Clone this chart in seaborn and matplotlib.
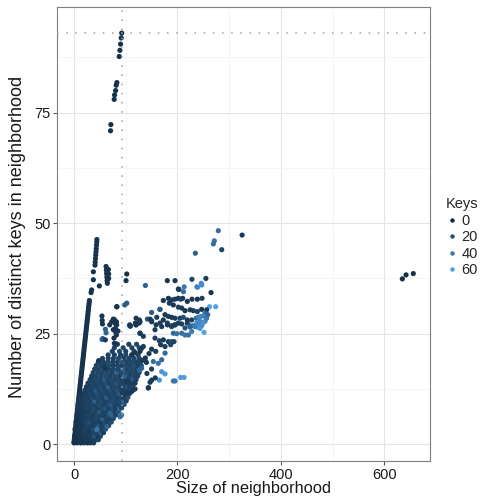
import numpy as np
import pandas as pd
import matplotlib
matplotlib.use("Agg")
import matplotlib.pyplot as plt
from matplotlib.colors import LinearSegmentedColormap, Normalize
from matplotlib.lines import Line2D
import seaborn as sns

# ---------------- data ----------------
# points lying on the "keys == size" diagonal
diag_size = [0, 0.5, 1, 1.5, 2, 2.4, 2.8, 3.3, 3.7, 4.2, 4.6, 5.1, 5.5, 6, 6.5, 6.9, 7.4, 7.8, 8.3, 8.8,
             9.2, 9.7, 10.1, 10.6, 11.1, 11.5, 12, 12.5, 12.9, 13.4, 13.9, 14.3, 14.8, 15.3, 15.7, 16.2,
             16.7, 17.1, 17.6, 18.1, 18.5, 19, 19.5, 19.9, 20.4, 20.9, 21.3, 21.8, 22.3, 22.7, 23.2, 23.7,
             24.1, 24.6, 25.1, 25.5, 26, 26.5, 26.9, 27.4, 27.9, 28.3, 28.8, 29.3, 29.7,
             33, 34, 37.4, 37.4, 40.6, 41, 41.5, 42, 42.5, 43, 43.5, 44, 44.2,
             70.6, 71.3, 77.7, 78.4, 80.4, 81.6, 82.9, 87.4, 88.7, 90.0, 91.3, 92.2]
diag_distinct = [0.5, 1, 1.5, 2, 2.5, 3, 3.5, 4, 4.5, 5, 5.5, 6, 6.5, 7, 7.5, 8, 8.5, 9, 9.5, 10,
                 10.5, 11, 11.5, 12, 12.5, 13, 13.5, 14, 14.5, 15, 15.5, 16, 16.5, 17, 17.5, 18,
                 18.5, 19, 19.5, 20, 20.5, 21, 21.5, 22, 22.5, 23, 23.5, 24, 24.5, 25, 25.5, 26,
                 26.5, 27, 27.5, 28, 28.5, 29, 29.5, 30, 30.5, 31, 31.5, 32, 32.5,
                 34.3, 34.9, 37.2, 39, 40.5, 41.2, 42, 42.8, 43.5, 44.2, 45, 45.7, 46.3,
                 70.9, 72.3, 78.0, 79.0, 80.0, 81.2, 81.8, 87.7, 89.1, 90.5, 91.9, 93.0]
diag_keys = [4] * 65 + [5] * 13 + [3] * 12

# second short streak
streak_size = [62, 62.5, 63, 63.5, 64, 64.5, 66.5, 67, 67, 49]
streak_distinct = [40.2, 39.4, 38.6, 37.8, 37, 36.4, 39.5, 38.5, 37.5, 35.8]
streak_keys = [5, 5, 5, 5, 5, 5, 5, 5, 5, 5]

# dense wedge near the origin, row by row
cloud_rows = [0.3, 1.0, 1.8, 2.6, 3.4, 4.2, 5.0, 5.8, 6.6, 7.4, 8.2, 9.0, 9.8, 10.6, 11.4, 12.2,
              13.0, 13.8, 14.6, 15.4, 16.2, 17.0, 17.8, 18.6, 19.4, 20.2, 21.0, 21.8, 22.6]
cloud_size = [
    [0, 6, 13, 19, 26, 32, 38],
    [3, 10, 16, 23, 29, 36, 42, 47],
    [1, 7, 14, 20, 27, 33, 40, 46, 51],
    [4, 11, 18, 25, 32, 39, 46, 52, 57],
    [2, 8, 15, 22, 29, 36, 43, 50, 56, 61],
    [5, 12, 19, 26, 33, 40, 47, 54, 61, 67],
    [4, 9, 16, 23, 30, 37, 44, 51, 58, 65, 72],
    [6, 13, 20, 27, 34, 41, 48, 55, 62, 69, 76],
    [6, 10, 17, 24, 31, 38, 45, 52, 59, 66, 73, 81],
    [7, 14, 21, 28, 35, 42, 49, 56, 63, 70, 78, 86],
    [8, 11, 18, 25, 32, 39, 46, 53, 60, 67, 74, 81, 88, 92],
    [8, 15, 22, 29, 36, 43, 50, 57, 64, 71, 78, 85, 92, 97],
    [9, 12, 19, 26, 33, 40, 47, 54, 61, 68, 75, 82, 89, 96, 101],
    [14, 21, 28, 35, 42, 49, 56, 63, 70, 77, 84, 91, 98, 104],
    [17, 24, 31, 38, 45, 52, 59, 66, 73, 80, 87, 94, 101, 107],
    [21, 28, 35, 42, 49, 56, 63, 70, 77, 84, 91, 98, 105, 111],
    [24, 31, 38, 45, 52, 59, 66, 73, 80, 87, 94, 101, 108, 113],
    [27, 34, 41, 48, 55, 62, 69, 76, 83, 90, 97, 104, 111, 117],
    [31, 38, 45, 52, 59, 66, 73, 80, 87, 94, 101, 108, 115, 120],
    [34, 43, 52, 61, 70, 79, 88, 97, 106, 115, 123],
    [37, 46, 55, 64, 73, 82, 91, 100, 109, 118, 126],
    [40, 49, 58, 67, 76, 85, 94, 103, 112, 121, 128],
    [43, 52, 60, 68, 76, 84, 92, 100, 108, 116, 124, 130],
    [47, 57, 66, 75, 84, 93, 102, 111, 120, 128],
    [55, 66, 76, 86, 96, 106, 116, 126],
    [66, 78, 90, 100, 112, 124],
    [74, 88, 100, 116],
    [78, 95, 112, 126],
    [84, 106, 121],
]
cloud_keys = [
    [3, 4, 5, 6, 5, 8, 10],
    [3, 5, 6, 8, 7, 10, 9, 14],
    [4, 5, 7, 9, 8, 12, 22, 10, 12],
    [4, 6, 8, 10, 9, 14, 12, 26, 10],
    [5, 6, 8, 12, 9, 16, 10, 13, 11, 20],
    [5, 7, 9, 14, 10, 12, 24, 11, 15, 14],
    [5, 6, 8, 12, 20, 11, 13, 10, 16, 12, 18],
    [6, 7, 10, 13, 11, 15, 12, 28, 14, 11, 16],
    [6, 7, 9, 12, 14, 10, 16, 13, 11, 18, 30, 14],
    [7, 8, 11, 10, 15, 12, 26, 14, 12, 16, 13, 22],
    [7, 8, 10, 14, 12, 16, 11, 15, 22, 13, 17, 12, 34, 14],
    [8, 9, 12, 11, 15, 13, 18, 12, 16, 26, 14, 12, 15, 20],
    [8, 9, 10, 14, 12, 30, 13, 16, 12, 15, 18, 13, 16, 32, 14],
    [9, 12, 10, 15, 13, 16, 12, 28, 14, 16, 12, 15, 13, 18],
    [9, 11, 14, 12, 18, 13, 15, 12, 17, 14, 24, 13, 16, 14],
    [10, 13, 12, 24, 14, 16, 12, 18, 14, 20, 13, 15, 12, 16],
    [10, 12, 15, 13, 17, 12, 30, 14, 16, 12, 14, 18, 13, 15],
    [10, 14, 12, 16, 13, 18, 12, 15, 22, 14, 13, 16, 12, 14],
    [11, 13, 16, 12, 26, 14, 17, 13, 15, 12, 16, 14, 30, 13],
    [11, 12, 14, 18, 13, 15, 12, 32, 14, 16, 12],
    [12, 15, 13, 16, 12, 30, 14, 18, 12, 14, 16],
    [12, 13, 17, 12, 15, 14, 28, 13, 16, 12, 14],
    [12, 14, 12, 16, 13, 15, 12, 18, 14, 20, 13, 15],
    [12, 13, 16, 12, 14, 22, 13, 15, 12, 14],
    [12, 14, 12, 16, 13, 12, 15, 14],
    [12, 14, 12, 16, 12, 14],
    [12, 14, 12, 15],
    [12, 14, 12, 16],
    [12, 12, 14],
]

# scattered points (size, distinct keys, keys)
sparse_size = [
    279, 325, 271.3, 269.4, 285.6, 234.6,
    102, 100.6, 138, 180.4, 195.3, 228, 255, 239, 247, 246, 237.4, 213, 203, 211.6, 265, 201.7,
    262, 274, 83, 98, 102, 82.5, 150, 166,
    76, 78, 82, 80, 109, 120, 126.4, 141.9, 150, 158.7, 107.7, 118.6, 69, 54, 54.5, 55, 60.6, 62,
    54.2, 55.5, 80, 82, 78, 60.6, 47.7, 59.4, 85, 80, 108, 126, 120, 127.6, 147, 160, 156.6,
    172.7, 182.4, 188.8, 195.3, 201.7, 206.2, 210.1, 219.1, 228.1, 238.5, 247.5,
    166.3, 184.3, 192, 201.7, 208.2, 214.6, 224.3, 230.7, 238.5, 246.8, 256.5, 253.3, 258.4,
    176, 182.4, 188.8, 195.3, 205, 211.4, 219.1, 227.5, 236, 240.4, 244.9, 250.1, 256.5, 243.6,
    237.2, 230.7, 224.3, 214.6, 238.5, 246.8, 253.3, 201.7, 195.3, 188.8, 180.5, 172.7, 169.5,
    72.8, 82.5, 108.3, 119.9, 127.6, 150.2, 166.3, 180.5, 188.8, 195.3, 208.2, 219.1, 224.3, 234,
    240.4, 243.6, 250,
    192, 198.5, 208.2, 214.6, 221, 227.5, 251.4,
    76, 77.3, 81.2, 127.6, 134,
    156.6, 165, 172.7, 182.4, 188.8, 193.3,
    167.6, 176, 186.9,
    134, 130.8, 127.6, 118, 111.5,
    153.4, 163, 169.5, 176,
    130.8, 126.3,
    169.5, 176,
    150.2, 165,
    192, 195.3,
    206.2, 212.7,
    143.7, 147, 141, 150, 157,
    101.8, 108.3, 118, 114.7, 111.5, 101.8, 95.4, 95, 118, 143.7,
    89, 92, 69.6, 63.5, 44,
    150, 158, 145, 138, 140, 133,
    634.8, 642, 656,
]
sparse_distinct = [
    48.3, 47.3, 46, 45.3, 44, 43.2,
    38.5, 37, 35.9, 37, 37, 37.3, 37.5, 35.5, 36, 36.4, 35.6, 35.6, 35, 34.5, 34.3, 35.1,
    31.1, 31.1, 31.1, 31.5, 31.9, 31.1, 29.8, 30.5,
    28.3, 28.2, 27.7, 27.3, 26.7, 27, 28.1, 28.3, 27.9, 27, 27, 27.4, 27, 29, 28, 27.2, 26, 25.2,
    23.7, 23.9, 25.5, 24.7, 22.8, 23.6, 18.9, 17.2, 25.6, 26.2, 26.8, 27.4, 28.5, 25.1, 28.3, 28.7, 25.9,
    32.5, 33, 32.65, 32.8, 33, 32.8, 33, 32.3, 32.8, 32.8, 33,
    30.5, 31.9, 31.5, 31, 30.8, 30.2, 30.4, 30.2, 30, 30.5, 30.4, 29.6, 29.3,
    29.3, 28.9, 28.7, 28.5, 28.5, 28.7, 28.1, 28.1, 28.5, 28.7, 28.9, 29, 28.5, 27.8,
    27.4, 26.8, 26.5, 26.3, 26.5, 26.8, 27.8, 27.4, 27, 26.8, 27, 28.1, 26.6,
    27.7, 27, 26.8, 27, 27.7, 27.7, 27.4, 27.4, 26.6, 27, 27.2, 27.4, 26.8, 26.6,
    27.4, 26.2, 27.5,
    25.1, 25, 25.1, 24.7, 24.7, 25.5, 25.3,
    25.9, 24, 22.7, 25.1, 24.4,
    24, 23.4, 23.6, 23.2, 23.2, 23.2,
    22.5, 22.1, 22.5,
    22.1, 21.7, 21, 20.7, 20.2,
    18.7, 18.3, 19.1, 20.6,
    17.2, 16.8,
    16.4, 15.9,
    14.5, 14.5,
    14.3, 14.3,
    15.1, 15.1,
    12.7, 14, 16, 17, 15,
    14.2, 13.8, 13.8, 12.3, 11.9, 11.5, 10.8, 11.8, 12.5, 12.8,
    6.2, 6.6, 7, 4, 3.3,
    21.5, 21, 20.5, 19.5, 18.5, 19,
    37.4, 38.3, 38.6,
]
sparse_keys = [
    36, 8, 38, 36, 14, 30,
    4, 4, 30, 6, 6, 14, 8, 56, 56, 52, 48, 42, 10, 36, 6, 8,
    62, 62, 5, 26, 28, 5, 26, 22,
    5, 6, 6, 5, 8, 6, 8, 24, 10, 8, 6, 7, 6, 6, 6, 6, 30, 30,
    30, 28, 7, 7, 6, 8, 6, 6, 8, 6, 8, 8, 6, 8, 8, 10, 8,
    6, 6, 8, 10, 6, 14, 8, 6, 8, 6, 10,
    24, 8, 6, 12, 8, 6, 10, 8, 12, 6, 8, 34, 30,
    8, 10, 6, 8, 12, 20, 8, 10, 36, 44, 50, 46, 40, 48,
    54, 40, 36, 20, 56, 52, 44, 10, 8, 10, 8, 8, 8,
    6, 6, 8, 6, 8, 8, 10, 10, 12, 8, 12, 10, 30, 44,
    50, 56, 54,
    34, 38, 36, 40, 38, 42, 62,
    6, 6, 6, 8, 10,
    10, 12, 8, 10, 20, 14,
    8, 10, 12,
    8, 8, 6, 8, 6,
    36, 38, 34, 34,
    30, 32,
    56, 58,
    8, 56,
    42, 40,
    58, 60,
    8, 10, 8, 10, 8,
    8, 10, 8, 6, 8, 8, 8, 10, 8, 8,
    36, 34, 30, 30, 40,
    8, 10, 8, 6, 8, 8,
    3, 3, 3,
]

legend_breaks = [0, 20, 40, 60]
x_ticks = [0, 200, 400, 600]
y_ticks = [0, 25, 50, 75]
ref_line = 93

# ---------------- assemble ----------------
c_size, c_dist, c_keys = [], [], []
for yv, xs, ks in zip(cloud_rows, cloud_size, cloud_keys):
    c_size += xs
    c_dist += [yv] * len(xs)
    c_keys += ks

df = pd.DataFrame({
    "size": diag_size + streak_size + c_size + sparse_size,
    "distinct": diag_distinct + streak_distinct + c_dist + sparse_distinct,
    "keys": diag_keys + streak_keys + c_keys + sparse_keys,
})

# ---------------- style ----------------
sns.set_style("white")
plt.rcParams["font.family"] = ["Liberation Sans", "DejaVu Sans"]

cmap = LinearSegmentedColormap.from_list(
    "gg", ["#132B43", "#224B6E", "#336A98", "#448AC6", "#56B1F7"])
norm = Normalize(0, 68)

W, H = 482, 497
fig = plt.figure(figsize=(W / 100, H / 100), dpi=100)
ax = fig.add_axes([57 / W, 1 - 461 / H, (430 - 57) / W, (461 - 7) / H])

sns.scatterplot(data=df, x="size", y="distinct", hue="keys", palette=cmap,
                hue_norm=norm, s=14, linewidth=0, legend=False, ax=ax, zorder=2)

ax.axvline(ref_line, color="#A0A0A0", lw=1.1, linestyle=(0, (1, 5)), zorder=3)
ax.axhline(ref_line, color="#A0A0A0", lw=1.1, linestyle=(0, (1, 5)), zorder=3)

ax.set_xlim(-32.9, 688.3)
ax.set_ylim(-3.8, 98.9)
ax.set_xticks(x_ticks)
ax.set_yticks(y_ticks)
ax.set_xticks([100, 300, 500], minor=True)
ax.set_yticks([12.5, 37.5, 62.5, 87.5], minor=True)
ax.grid(which="major", color="#E5E5E5", lw=0.8)
ax.grid(which="minor", color="#F4F4F4", lw=0.6)
ax.set_axisbelow(True)
ax.tick_params(which="major", direction="out", length=3.2, width=0.8, color="#555555",
               labelsize=10.5, labelcolor="#1a1a1a", pad=1.5, bottom=True, left=True)
ax.tick_params(which="minor", length=0)
for sp in ax.spines.values():
    sp.set_color("#7F7F7F")
    sp.set_linewidth(0.8)
ax.set_xlabel("")
ax.set_ylabel("")

fig.text(254 / W, 3.6 / H, "Size of neighborhood", ha="center", va="baseline",
         fontsize=11.8, color="#1a1a1a")
fig.text(18 / W, 1 - 237 / H, "Number of distinct keys in neighborhood", ha="center",
         va="center", rotation=90, fontsize=13, color="#1a1a1a")

handles = [Line2D([], [], marker="o", linestyle="", markersize=3.2, markeredgewidth=0,
                  markerfacecolor=cmap(norm(v))) for v in legend_breaks]
leg = fig.legend(handles, [str(v) for v in legend_breaks], title="Keys",
                 loc="upper left", bbox_to_anchor=(446 / W, 1 - 197 / H),
                 frameon=False, fontsize=10.5, title_fontsize=10.5, handlelength=0.8,
                 handletextpad=0.28, labelspacing=0.18, borderpad=0, borderaxespad=0,
                 alignment="left")

fig.savefig("out.png", dpi=100)
